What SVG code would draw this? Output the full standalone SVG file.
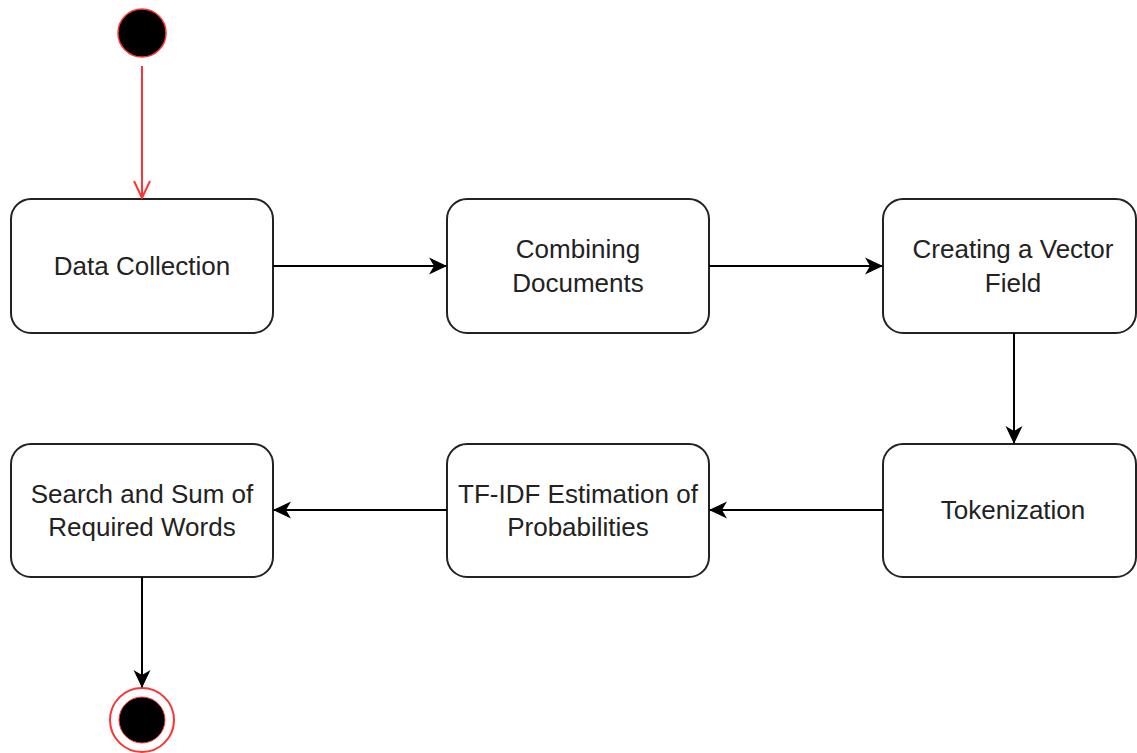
<svg xmlns="http://www.w3.org/2000/svg" width="1137" height="753" viewBox="0 0 1137 753">
<defs>
<style>
.box{fill:#fff;stroke:#222;stroke-width:2}
.t{font-family:"Liberation Sans",Arial,sans-serif;font-size:26px;fill:#222;text-anchor:middle}
.c{fill:none;stroke:#000;stroke-width:2}
</style>
<marker id="blk" viewBox="0 0 18 18" refX="17" refY="9" markerWidth="18" markerHeight="18" markerUnits="userSpaceOnUse" orient="auto">
<path d="M0,0.5 L18,9 L0,17.5 L5,9 Z" fill="#000"/>
</marker>
<marker id="open" viewBox="0 0 20 20" refX="19" refY="10" markerWidth="20" markerHeight="20" markerUnits="userSpaceOnUse" orient="auto">
<path d="M2,2 L19,10 L2,18" fill="none" stroke="#ff3333" stroke-width="2"/>
</marker>
</defs>
<rect width="1137" height="753" fill="#fff"/>
<g id="start"><circle cx="142" cy="33" r="24" fill="#000" stroke="#ff3333" stroke-width="1.5"/></g>
<g id="n1"><rect class="box" x="11" y="199" width="262" height="134" rx="20"/><text class="t" x="142" y="275">Data Collection</text></g>
<g id="n2"><rect class="box" x="447" y="199" width="262" height="134" rx="20"/><text class="t" x="578" y="258">Combining</text><text class="t" x="578" y="292">Documents</text></g>
<g id="n3"><rect class="box" x="883" y="199" width="253" height="134" rx="20"/><text class="t" x="1013" y="258">Creating a Vector</text><text class="t" x="1013" y="292">Field</text></g>
<g id="n4"><rect class="box" x="883" y="444" width="253" height="133" rx="20"/><text class="t" x="1013" y="519">Tokenization</text></g>
<g id="n5"><rect class="box" x="447" y="444" width="262" height="133" rx="20"/><text class="t" x="578" y="503">TF-IDF Estimation of</text><text class="t" x="578" y="536">Probabilities</text></g>
<g id="n6"><rect class="box" x="11" y="444" width="262" height="133" rx="20"/><text class="t" x="142" y="503">Search and Sum of</text><text class="t" x="142" y="536">Required Words</text></g>
<g id="end"><circle cx="142" cy="720" r="32" fill="#fff" stroke="#ff3333" stroke-width="2"/><circle cx="142" cy="720" r="23" fill="#000" stroke="#ff3333" stroke-width="1"/></g>
<g id="connectors">
<line x1="142" y1="66" x2="142" y2="198" stroke="#ff3333" stroke-width="2" marker-end="url(#open)"/>
<line class="c" x1="273" y1="266" x2="446" y2="266" marker-end="url(#blk)"/>
<line class="c" x1="709" y1="266" x2="882" y2="266" marker-end="url(#blk)"/>
<line class="c" x1="1014" y1="333" x2="1014" y2="443" marker-end="url(#blk)"/>
<line class="c" x1="883" y1="510" x2="710" y2="510" marker-end="url(#blk)"/>
<line class="c" x1="447" y1="510" x2="274" y2="510" marker-end="url(#blk)"/>
<line class="c" x1="142" y1="577" x2="142" y2="687" marker-end="url(#blk)"/>
</g>
</svg>
